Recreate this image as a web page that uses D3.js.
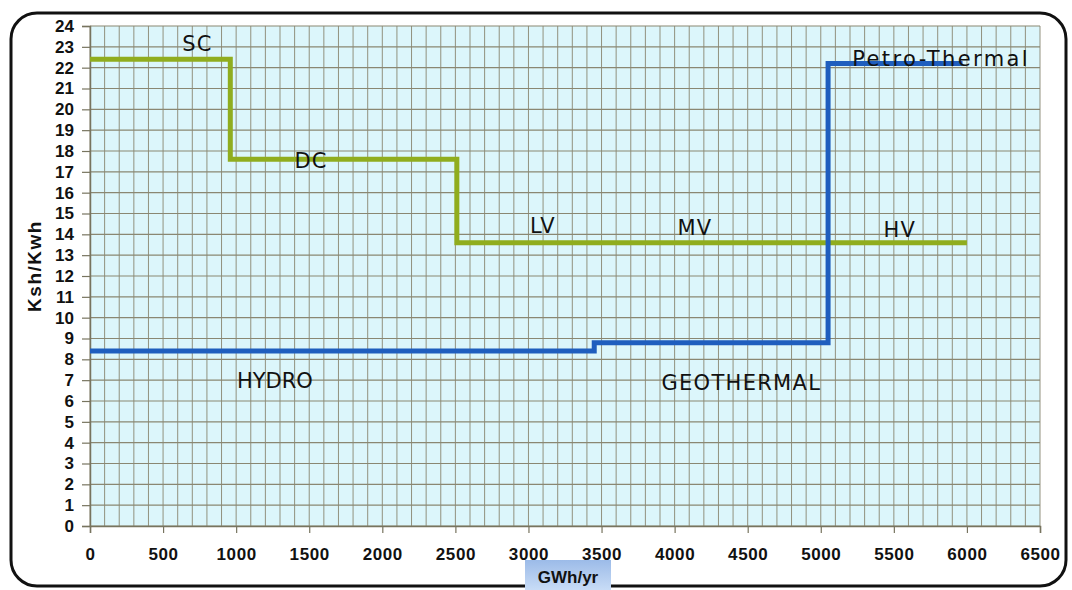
<!DOCTYPE html>
<html>
<head>
<meta charset="utf-8">
<script src="https://cdn.jsdelivr.net/npm/d3@7"></script>
<style>
  html, body { margin: 0; padding: 0; background: #ffffff; }
  svg { display: block; }
</style>
</head>
<body>
<svg id="chart" width="1072" height="590"></svg>
<script>
// ---- Data ----
const xTicks = [0, 500, 1000, 1500, 2000, 2500, 3000, 3500, 4000, 4500, 5000, 5500, 6000, 6500];
const yTicks = d3.range(0, 25);

// Tariff step line (green): breakpoints in GWh/yr and values in Ksh/Kwh
const tariffBreaks = [0, 960, 2510, 6000];
const tariffValues = [22.4, 17.6, 13.6];
const tariffLabels = ["SC", "DC", "LV", "MV", "HV"];

// Generation cost step line (blue)
const genBreaks = [0, 3450, 5050, 5970];
const genValues = [8.4, 8.8, 22.2];
const genLabels = ["HYDRO", "GEOTHERMAL", "Petro-Thermal"];

// Label anchors (data coordinates, start of text)
const tariffLabelPos = [[632, 22.8], [1400, 17.2], [3010, 14.05], [4020, 13.95], [5430, 13.85]];
const genLabelPos = [[1005, 6.62], [3910, 6.53], [5215, 22.1]];

// ---- Layout ----
const svg = d3.select("#chart");
const L = 90, R = 1040, T = 26, B = 526;
const x = d3.scaleLinear().domain([0, 6500]).range([L, R]);
const y = d3.scaleLinear().domain([0, 24]).range([B, T]);

// Frame
svg.append("rect")
  .attr("x", 11).attr("y", 13).attr("width", 1055).attr("height", 573)
  .attr("rx", 26).attr("ry", 26)
  .attr("fill", "#ffffff").attr("stroke", "#111").attr("stroke-width", 3);

// Plot background
svg.append("rect")
  .attr("x", L).attr("y", T).attr("width", R - L).attr("height", B - T)
  .attr("fill", "#dcf6fb");

// Grid
const gridColor = "#8a8772";
const g = svg.append("g");
g.selectAll("line.vg").data(d3.range(0, 6501, 100)).join("line")
  .attr("x1", d => x(d)).attr("x2", d => x(d))
  .attr("y1", T).attr("y2", B)
  .attr("stroke", gridColor).attr("stroke-width", 1).attr("opacity", 0.9);
g.selectAll("line.hg").data(yTicks).join("line")
  .attr("x1", L).attr("x2", R)
  .attr("y1", d => y(d)).attr("y2", d => y(d))
  .attr("stroke", gridColor).attr("stroke-width", 1.2);

// Axes
const tickFont = "'Liberation Sans', Arial, sans-serif";
const yAxis = svg.append("g").attr("transform", `translate(${L},0)`)
  .call(d3.axisLeft(y).tickValues(yTicks).tickSize(8).tickPadding(8).tickFormat(d3.format("d")));
const xAxis = svg.append("g").attr("transform", `translate(0,${B})`)
  .call(d3.axisBottom(x).tickValues(xTicks).tickSize(7).tickPadding(15).tickFormat(d3.format("d")));
[yAxis, xAxis].forEach(a => {
  a.select(".domain").attr("stroke", "#77745f").attr("stroke-width", 1.5);
  a.selectAll(".tick line").attr("stroke", "#77745f").attr("stroke-width", 1.2);
  a.selectAll(".tick text")
    .attr("font-family", tickFont).attr("font-weight", "bold")
    .attr("font-size", 17).attr("fill", "#111");
});
xAxis.selectAll(".tick text").attr("letter-spacing", 0.6);

// Step lines
const stepLine = d3.line().x(d => x(d[0])).y(d => y(d[1])).curve(d3.curveStepAfter);
function stepPoints(breaks, values) {
  const pts = breaks.slice(0, -1).map((b, i) => [b, values[i]]);
  pts.push([breaks[breaks.length - 1], values[values.length - 1]]);
  return pts;
}
svg.append("path").datum(stepPoints(tariffBreaks, tariffValues))
  .attr("d", stepLine).attr("fill", "none")
  .attr("stroke", "#90ad1e").attr("stroke-width", 5);
svg.append("path").datum(stepPoints(genBreaks, genValues))
  .attr("d", stepLine).attr("fill", "none")
  .attr("stroke", "#1f5ebe").attr("stroke-width", 5);

// Labels
const lblFont = "'DejaVu Sans', sans-serif";
svg.selectAll("text.tl").data(tariffLabels).join("text")
  .attr("x", (d, i) => x(tariffLabelPos[i][0]))
  .attr("y", (d, i) => y(tariffLabelPos[i][1]))
  .attr("font-family", lblFont).attr("font-size", 21).attr("letter-spacing", 1)
  .attr("fill", "#111").text(d => d);
svg.selectAll("text.gl").data(genLabels).join("text")
  .attr("x", (d, i) => x(genLabelPos[i][0]))
  .attr("y", (d, i) => y(genLabelPos[i][1]))
  .attr("font-family", lblFont).attr("font-size", 21)
  .attr("letter-spacing", (d, i) => [0, 1.3, 2.4][i])
  .attr("fill", "#111").text(d => d);

// Axis titles
svg.append("text")
  .attr("transform", "translate(41,266) rotate(-90)")
  .attr("text-anchor", "middle")
  .attr("font-family", tickFont).attr("font-weight", "bold").attr("font-size", 19)
  .attr("letter-spacing", 1.5).attr("fill", "#111").text("Ksh/Kwh");

const grad = svg.append("defs").append("linearGradient").attr("id", "tb")
  .attr("x1", 0).attr("y1", 0).attr("x2", 0).attr("y2", 1);
grad.append("stop").attr("offset", "0%").attr("stop-color", "#9cbbe8");
grad.append("stop").attr("offset", "100%").attr("stop-color", "#c8dcf6");
svg.append("rect").attr("x", 525).attr("y", 560).attr("width", 86).attr("height", 30)
  .attr("fill", "url(#tb)");
svg.append("text")
  .attr("x", 568).attr("y", 583).attr("text-anchor", "middle")
  .attr("font-family", tickFont).attr("font-weight", "bold").attr("font-size", 17)
  .attr("fill", "#111").text("GWh/yr");
</script>
</body>
</html>
